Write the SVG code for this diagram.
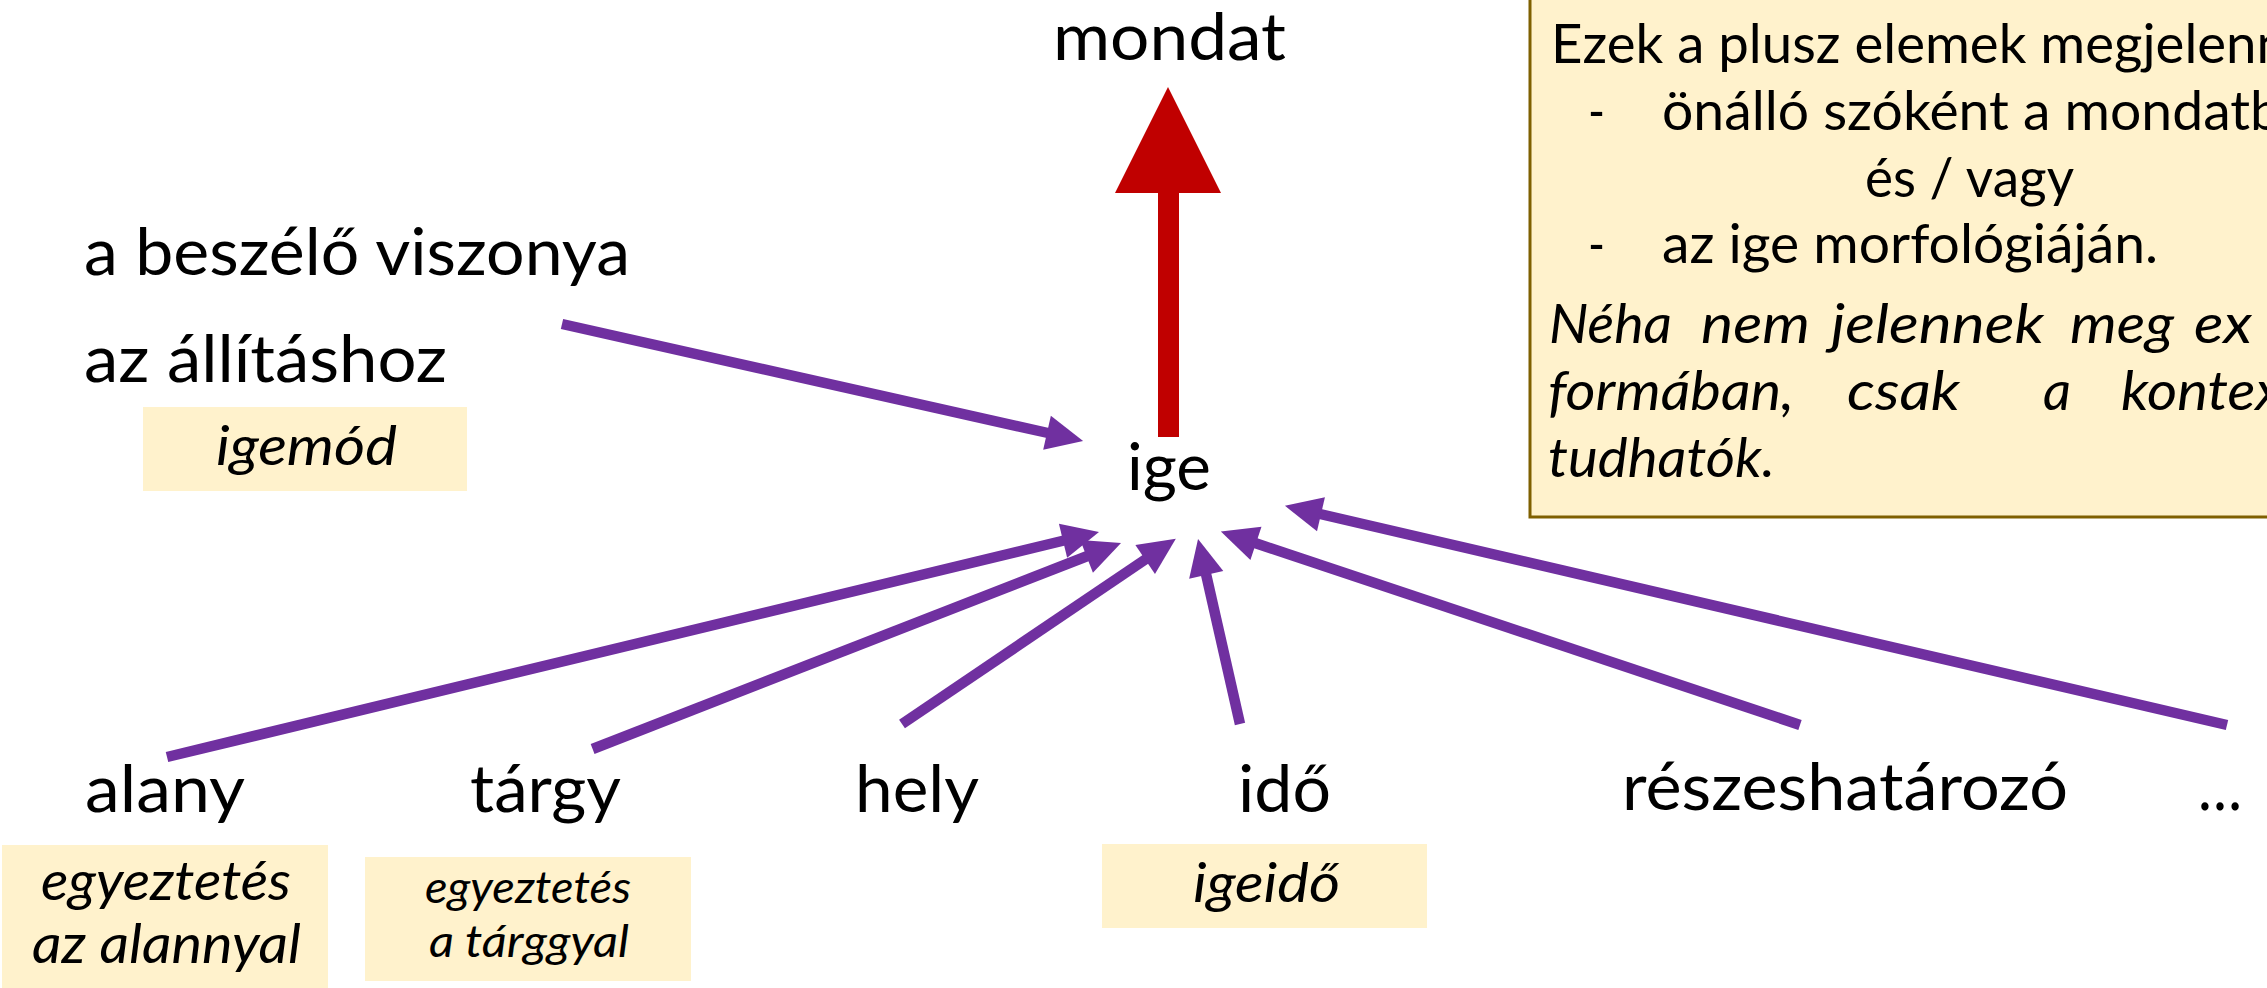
<svg xmlns="http://www.w3.org/2000/svg" width="2267" height="988" viewBox="0 0 2267 988">
  <style>
    text { font-family: "Lato", "Liberation Sans", sans-serif; fill: #000; }
    .big { font-size: 66px; }
    .mid { font-size: 54px; }
    .it { font-style: italic; }
    .small { font-size: 44px; }
    .tag { fill: #FFF2CC; }
    .note { fill: #FFF2CC; stroke: #7F6000; stroke-width: 3; }
    .link { fill: none; stroke: #7030A0; stroke-width: 10.5; stroke-linecap: butt; marker-end: url(#head); }
  </style>
  <defs>
    <marker id="head" markerUnits="userSpaceOnUse" markerWidth="38" markerHeight="36" refX="1" refY="17.5" orient="auto" overflow="visible">
      <path d="M0,0 L37,17.5 L0,35 Z" fill="#7030A0"/>
    </marker>
  </defs>

  <!-- explanatory note, partly outside the canvas -->
  <g id="note">
    <rect class="note" x="1530" y="-20" width="800" height="537"/>
    <text class="mid" x="1551" y="63" textLength="736" lengthAdjust="spacingAndGlyphs">Ezek a plusz elemek megjelenn</text>
    <text class="mid" x="1588" y="130" textLength="17" lengthAdjust="spacingAndGlyphs">-</text>
    <text class="mid" x="1662" y="130" textLength="619" lengthAdjust="spacingAndGlyphs">önálló szóként a mondatb</text>
    <text class="mid" x="1865" y="197" textLength="209" lengthAdjust="spacingAndGlyphs">és / vagy</text>
    <text class="mid" x="1588" y="263" textLength="17" lengthAdjust="spacingAndGlyphs">-</text>
    <text class="mid" x="1662" y="263" textLength="496" lengthAdjust="spacingAndGlyphs">az ige morfológiáján.</text>
    <g class="it">
      <text class="mid" x="1549" y="343" textLength="123" lengthAdjust="spacingAndGlyphs">Néha</text>
      <text class="mid" x="1701" y="343" textLength="109" lengthAdjust="spacingAndGlyphs">nem</text>
      <text class="mid" x="1831" y="343" textLength="213" lengthAdjust="spacingAndGlyphs">jelennek</text>
      <text class="mid" x="2070" y="343" textLength="104" lengthAdjust="spacingAndGlyphs">meg</text>
      <text class="mid" x="2194" y="343" textLength="58" lengthAdjust="spacingAndGlyphs">ex</text>
      <text class="mid" x="1548" y="410" textLength="246" lengthAdjust="spacingAndGlyphs">formában,</text>
      <text class="mid" x="1847" y="410" textLength="113" lengthAdjust="spacingAndGlyphs">csak</text>
      <text class="mid" x="2043" y="410" textLength="28" lengthAdjust="spacingAndGlyphs">a</text>
      <text class="mid" x="2121" y="410" textLength="182" lengthAdjust="spacingAndGlyphs">kontext</text>
      <text class="mid" x="1548" y="477" textLength="227" lengthAdjust="spacingAndGlyphs">tudhatók.</text>
    </g>
  </g>

  <!-- connectors -->
  <g id="connectors">
    <path d="M1158,437 L1158,193 L1115,193 L1168,87 L1221,193 L1179,193 L1179,437 Z" fill="#C00000"/>
    <path class="link" d="M562,324 L1048,433"/>
    <path class="link" d="M592.6,749 L1087.5,556"/>
    <path class="link" d="M167,757 L1064,540.5"/>
    <path class="link" d="M902,724 L1146,559"/>
    <path class="link" d="M1240,724 L1206,574"/>
    <path class="link" d="M1800,725 L1255,543"/>
    <path class="link" d="M2227,725 L1320,514"/>
  </g>

  <g id="mondat">
    <text class="big" x="1053" y="60" textLength="233" lengthAdjust="spacingAndGlyphs">mondat</text>
  </g>
  <g id="ige">
    <text class="big" x="1127" y="490" textLength="84" lengthAdjust="spacingAndGlyphs">ige</text>
  </g>
  <g id="beszelo">
    <text class="big" x="84" y="275" textLength="546" lengthAdjust="spacingAndGlyphs">a beszélő viszonya</text>
    <text class="big" x="84" y="382" textLength="363" lengthAdjust="spacingAndGlyphs">az állításhoz</text>
    <rect class="tag" x="143" y="407" width="324" height="84"/>
    <text class="mid it" x="216" y="465" textLength="181" lengthAdjust="spacingAndGlyphs">igemód</text>
  </g>
  <g id="alany">
    <text class="big" x="85" y="812" textLength="160" lengthAdjust="spacingAndGlyphs">alany</text>
    <rect class="tag" x="2" y="845" width="326" height="150"/>
    <text class="mid it" x="41" y="900" textLength="250" lengthAdjust="spacingAndGlyphs">egyeztetés</text>
    <text class="mid it" x="32" y="963" textLength="269" lengthAdjust="spacingAndGlyphs">az alannyal</text>
  </g>
  <g id="targy">
    <text class="big" x="470" y="812" textLength="151" lengthAdjust="spacingAndGlyphs">tárgy</text>
    <rect class="tag" x="365" y="857" width="326" height="124"/>
    <text class="small it" x="425" y="903" textLength="206" lengthAdjust="spacingAndGlyphs">egyeztetés</text>
    <text class="small it" x="429" y="957" textLength="200" lengthAdjust="spacingAndGlyphs">a tárggyal</text>
  </g>
  <g id="hely">
    <text class="big" x="855" y="812" textLength="124" lengthAdjust="spacingAndGlyphs">hely</text>
  </g>
  <g id="ido">
    <text class="big" x="1238" y="812" textLength="93" lengthAdjust="spacingAndGlyphs">idő</text>
    <rect class="tag" x="1102" y="844" width="325" height="84"/>
    <text class="mid it" x="1193" y="902" textLength="147" lengthAdjust="spacingAndGlyphs">igeidő</text>
  </g>
  <g id="reszes">
    <text class="big" x="1622" y="810" textLength="446" lengthAdjust="spacingAndGlyphs">részeshatározó</text>
  </g>
  <g id="tovabbi">
    <text class="big" x="2198" y="810" textLength="44" lengthAdjust="spacingAndGlyphs">…</text>
  </g>
</svg>
